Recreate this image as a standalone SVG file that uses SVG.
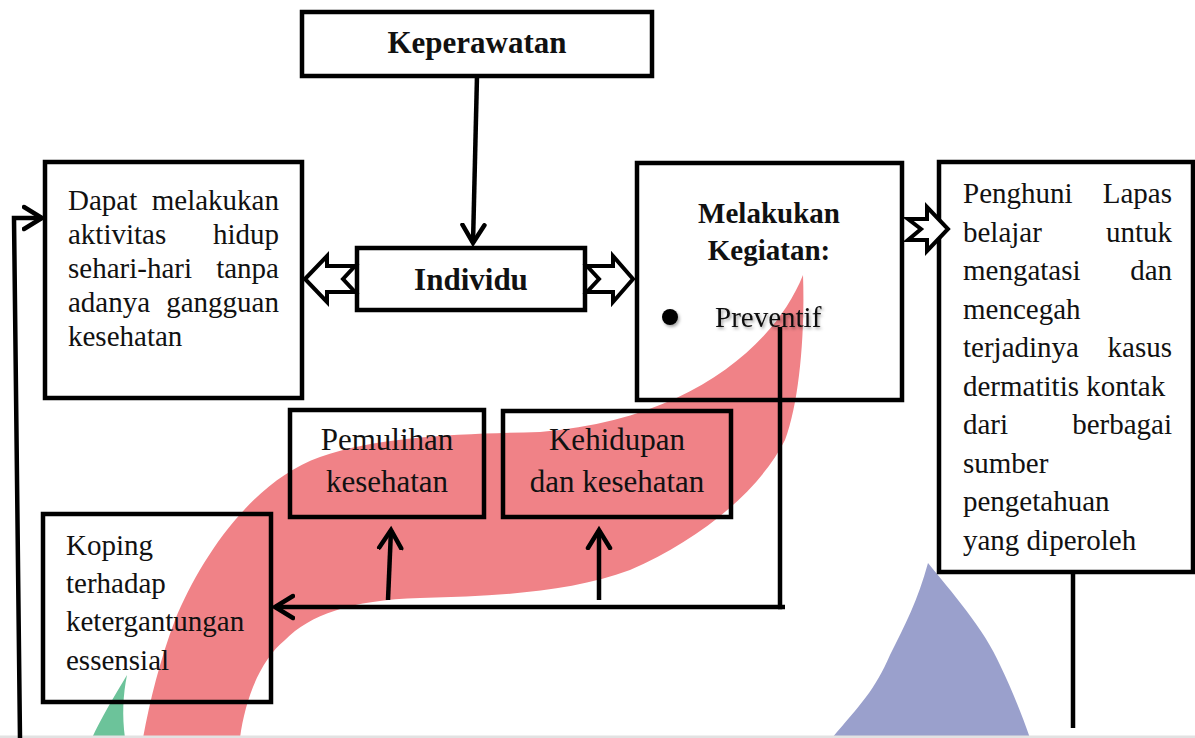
<svg xmlns="http://www.w3.org/2000/svg" width="1195" height="738" viewBox="0 0 1195 738">
  <style>
    .box { fill: none; stroke: #000; stroke-width: 4.5; }
    .t { font-family: "Liberation Serif", "Times New Roman", serif; font-size: 29px; fill: #111; }
    .b { font-weight: bold; }
    .big { font-size: 31px; }
    .c { text-anchor: middle; }
    .e { text-anchor: end; }
    .con { fill: none; stroke: #000; stroke-width: 4.5; }
    .hollow { fill: #fff; stroke: #000; stroke-width: 4; stroke-linejoin: miter; }
  </style>
  <defs>
    <marker id="v" markerUnits="userSpaceOnUse" markerWidth="40" markerHeight="40" viewBox="-20 -20 40 40" refX="0" refY="0" orient="auto">
      <path d="M-18,-11 L0,0 L-18,11" fill="none" stroke="#000" stroke-width="4.5" stroke-linecap="round" stroke-linejoin="miter"/>
    </marker>
    <filter id="sh" x="-20%" y="-40%" width="140%" height="180%">
      <feDropShadow dx="1.5" dy="2" stdDeviation="1.5" flood-color="#000" flood-opacity="0.35"/>
    </filter>
  </defs>

  <rect x="0" y="0" width="1195" height="738" fill="#fff"/>

  <!-- background decorative shapes -->
  <path d="M803,275 C775,345 690,420 540,432 C460,434 380,436 320,457 C250,482 200,560 175,620 C160,660 150,700 143,738 L240,738 C245,700 260,660 285,640 C310,615 350,600 420,598 C500,596 570,592 630,570 C700,540 760,490 785,440 C800,400 805,330 803,275 Z" fill="#F08287"/>
  <path d="M127,675 C115,695 100,720 92,738 L125,738 C122,715 123,695 127,675 Z" fill="#6CC39A"/>
  <path d="M928,563 C950,590 985,630 1000,665 C1012,690 1022,715 1030,738 L832,738 C860,705 875,690 890,655 C905,625 918,600 928,563 Z" fill="#9AA0CC"/>
  <rect x="0" y="735.5" width="1195" height="2.5" fill="#e2e2e2"/>

  <g id="connectors">
    <line class="con" x1="477" y1="76" x2="473" y2="243" marker-end="url(#v)"/>
    <polyline class="con" points="20,738 14,218 42,218" marker-end="url(#v)"/>
    <polyline class="con" points="780,327 780,607 275,607" marker-end="url(#v)"/>
    <line class="con" x1="785" y1="607" x2="778" y2="607"/>
    <line class="con" x1="388" y1="600" x2="391" y2="530" marker-end="url(#v)"/>
    <line class="con" x1="599" y1="600" x2="599" y2="530" marker-end="url(#v)"/>
    <line class="con" x1="1073" y1="572" x2="1073" y2="728"/>
    <polygon class="hollow" points="305,279 327,256 327,266 355,266 343,279 355,292 327,292 327,302"/>
    <polygon class="hollow" points="587,266 613,266 613,256 633,279 613,302 613,292 587,292 599,279"/>
  </g>

  <g id="keperawatan">
    <rect class="box" x="302" y="12" width="350" height="64"/>
    <text class="t b big c" x="477" y="53">Keperawatan</text>
  </g>

  <g id="individu">
    <rect class="box" x="357" y="248" width="228" height="62"/>
    <text class="t b big c" x="471" y="290">Individu</text>
  </g>

  <g id="dapat">
    <rect class="box" x="45" y="162" width="257" height="236"/>
    <text class="t" x="68" y="210">Dapat</text><text class="t e" x="279" y="210">melakukan</text>
    <text class="t" x="68" y="244">aktivitas</text><text class="t e" x="279" y="244">hidup</text>
    <text class="t" x="68" y="278">sehari-hari</text><text class="t e" x="279" y="278">tanpa</text>
    <text class="t" x="68" y="312">adanya</text><text class="t e" x="279" y="312">gangguan</text>
    <text class="t" x="68" y="346">kesehatan</text>
  </g>

  <g id="melakukan">
    <rect class="box" x="637" y="163" width="265" height="237"/>
    <text class="t b c" x="769" y="223">Melakukan</text>
    <text class="t b c" x="769" y="260">Kegiatan:</text>
    <g filter="url(#sh)">
      <circle cx="670" cy="317" r="8" fill="#000"/>
      <text class="t" x="715" y="327">Preventif</text>
    </g>
  </g>

  <g id="penghuni">
    <rect class="box" x="939" y="162" width="254" height="410" style="fill:#fff"/>
    <text class="t" x="963" y="203">Penghuni</text><text class="t e" x="1172" y="203">Lapas</text>
    <text class="t" x="963" y="241.5">belajar</text><text class="t e" x="1172" y="241.5">untuk</text>
    <text class="t" x="963" y="280">mengatasi</text><text class="t e" x="1172" y="280">dan</text>
    <text class="t" x="963" y="318.5">mencegah</text>
    <text class="t" x="963" y="357">terjadinya</text><text class="t e" x="1172" y="357">kasus</text>
    <text class="t" x="963" y="395.5">dermatitis kontak</text>
    <text class="t" x="963" y="434">dari</text><text class="t e" x="1172" y="434">berbagai</text>
    <text class="t" x="963" y="472.5">sumber</text>
    <text class="t" x="963" y="511">pengetahuan</text>
    <text class="t" x="963" y="549.5">yang diperoleh</text>
  </g>
  <g id="arrow-to-penghuni">
    <polygon class="hollow" points="908,219 927,219 927,207 948,229 927,251 927,240 908,240 921,229"/>
  </g>

  <g id="pemulihan">
    <rect class="box" x="290" y="410" width="194" height="107"/>
    <text class="t big c" x="387" y="450">Pemulihan</text>
    <text class="t big c" x="387" y="492">kesehatan</text>
  </g>

  <g id="kehidupan">
    <rect class="box" x="503" y="411" width="228" height="106"/>
    <text class="t big c" x="617" y="450">Kehidupan</text>
    <text class="t big c" x="617" y="492">dan kesehatan</text>
  </g>

  <g id="koping">
    <rect class="box" x="43" y="514" width="228" height="188"/>
    <text class="t" x="66" y="555">Koping</text>
    <text class="t" x="66" y="593">terhadap</text>
    <text class="t" x="66" y="631">ketergantungan</text>
    <text class="t" x="66" y="670">essensial</text>
  </g>
</svg>
